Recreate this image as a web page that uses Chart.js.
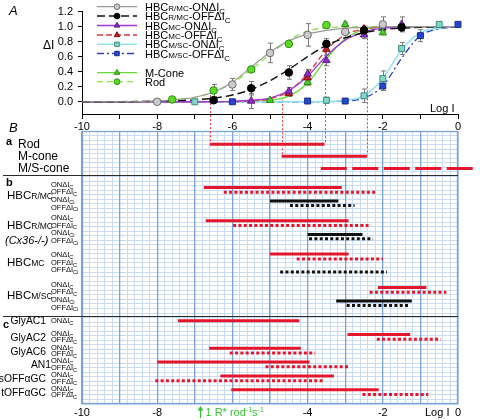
<!DOCTYPE html>
<html><head><meta charset="utf-8">
<script src="https://cdn.jsdelivr.net/npm/chart.js@4.4.0/dist/chart.umd.min.js"></script>
<style>
html,body{margin:0;padding:0;background:#fff;}
#wrap{position:relative;width:480px;height:420px;overflow:hidden;background:#fff;}
#wrap canvas{position:absolute;left:0;top:0;}
</style></head><body>
<div id="wrap"><canvas id="cb" width="480" height="420"></canvas><canvas id="ca" width="480" height="420"></canvas></div>
<script>
// ================= Panel A data (Log I vs ΔI) =================
const curveLogI  = [-10,-9,-8,-7.5,-7,-6.5,-6,-5.5,-5,-4.5,-4,-3.5,-3,-2.5,-2,-1.5,-1,-0.5,0];
const fitRmcOn   = [0,0,0.01,0.03,0.06,0.13,0.26,0.46,0.66,0.81,0.9,0.95,0.98,0.99,1,1,1,1,1];
const fitRmcOff  = [0,0,0.01,0.015,0.026,0.05,0.09,0.165,0.28,0.43,0.6,0.75,0.85,0.92,0.96,0.98,0.99,0.995,1];
const fitMcOn    = [0,0,0,0,0,0.002,0.006,0.02,0.05,0.15,0.34,0.61,0.82,0.93,0.98,0.99,1,1,1];
const fitMcOff   = [0,0,0,0,0,0.001,0.003,0.012,0.04,0.14,0.37,0.69,0.89,0.97,0.99,1,1,1,1];
const fitMsOn    = [0,0,0,0,0,0,0,0,0,0,0,0.004,0.018,0.08,0.31,0.69,0.92,0.98,1];
const fitMsOff   = [0,0,0,0,0,0,0,0,0,0,0,0.002,0.01,0.05,0.21,0.58,0.88,0.97,1];
const fitMcone   = [0,0,0,0,0,0,0.001,0.005,0.02,0.075,0.25,0.57,0.84,0.96,0.99,1,1,1,1];
const fitRod     = [0,0.003,0.01,0.03,0.06,0.13,0.25,0.43,0.63,0.82,0.94,0.985,0.995,1,1,1,1,1,1];

const ptsRmcOnX  = [-8,-6,-5,-4,-3,-2];
const ptsRmcOnY  = [0,0.23,0.65,0.89,0.93,1.03];
const ptsRmcOnE  = [0.01,0.08,0.13,0.15,0.08,0.1];
const ptsRmcOffX = [-6.5,-5.5,-4.5,-3.5,-2.5,-1.5];
const ptsRmcOffY = [0.02,0.18,0.39,0.77,0.95,0.99];
const ptsRmcOffE = [0.02,0.09,0.09,0.07,0.05,0.05];
const ptsMcOnX   = [-5.5,-4.5,-4,-3.5,-2.5,-1.5];
const ptsMcOnY   = [0.01,0.14,0.37,0.55,0.89,1.03];
const ptsMcOnE   = [0.1,0.05,0.06,0.07,0.05,0.1];
const ptsMcOffX  = [-4.5,-4,-3.5,-2.5];
const ptsMcOffY  = [0.11,0.32,0.7,0.97];
const ptsMcOffE  = [0.04,0.06,0.08,0.04];
const ptsMsOnX   = [-7,-3.5,-2.5,-2,-1.5,-0.5];
const ptsMsOnY   = [0,0.02,0.08,0.31,0.71,1.03];
const ptsMsOnE   = [0.01,0.04,0.09,0.1,0.08,0.02];
const ptsMsOffX  = [-6,-4,-3,-2,-1,0];
const ptsMsOffY  = [0,0.01,0.01,0.21,0.88,1.03];
const ptsMsOffE  = [0.01,0.01,0.01,0.06,0.08,0.02];
const ptsMconeX  = [-5,-4,-3,-2];
const ptsMconeY  = [0.02,0.26,1.03,0.92];
const ptsMconeE  = [0.01,0.04,0.03,0.03];
const ptsRodX    = [-7.6,-6.5,-5.5,-4.5,-3.5];
const ptsRodY    = [0.03,0.15,0.43,0.77,1.02];
const ptsRodE    = [0.02,0.08,0.03,0.03,0.02];
const yTicksA    = [0,0.2,0.4,0.6,0.8,1.0,1.2];
const guideTopsA = [0.14,0.82,0.02,0.95];   // ΔI where the dotted guides leave panel A

// ================= Panel B data (operating ranges, Log I) =================
const rowNamesA  = ['Rod','M-cone','M/S-cone'];
const rangesA    = [[-6.6,-3.55],[-4.69,-2.42],[-3.65,0.45]];

const hbcNames   = ['HBCR/MC','HBCR/MC (Cx36-/-)','HBCMC','HBCM/SC'];
const hbcOnC     = [[-6.76,-3.09],[-6.71,-2.91],[-5.0,-2.91],[-2.13,-0.84]];
const hbcOffC    = [[-6.23,-2.16],[-5.98,-2.38],[-4.29,-2.0],[-2.35,-0.31]];
const hbcOnCi    = [[-5.0,-3.18],[-4.0,-2.54],null,[-3.24,-1.23]];
const hbcOffCi   = [[-4.47,-2.75],[-3.96,-2.26],[-4.73,-1.89],[-2.96,-1.27]];

const acNames    = ['GlyAC1','GlyAC2','GlyAC6','AN1','sOFFαGC','tOFFαGC'];
const acOnC      = [[-7.45,-4.22],[-2.94,-1.27],[-6.62,-4.18],[-8.0,-3.95],[-6.32,-3.3],[-6.03,-2.11]];
const acOffC     = [null,[-2.16,-0.46],[-6.07,-3.8],[-5.12,-2.87],[-8.05,-3.56],[-2.54,-0.79]];
const xLabelsB   = [-10,-8,-4,-2,0];
const oneRstarLogI = -6.85;

// ================= layout helpers =================
const FONT = "'Liberation Sans', Arial, Helvetica, sans-serif";
Chart.defaults.font.family = FONT;
Chart.defaults.color = '#000';
const RED = '#e3162b', BLACK = '#111111';
const MAJOR = '#7aa3da', MINOR = '#c9dcf3';
function rowA(i){ return 2.9 + i*2.67; }
function rowB(g,k){ return 12.4 + g*7.33 + [0,1.05,3.0,3.95][k]; }
function rowC(i,k){ return 41.7 + i*3.03 + k*1.05; }
const sectionBreaks = [9.67, 40.7];
function ticksFrom(a,b,step){ const t=[]; const n=Math.round((b-a)/step); for(let i=0;i<=n;i++) t.push({value:+(a+i*step).toFixed(6)}); return t; }
function rich(ctx,x,y,segs,align){
  let w=0;
  segs.forEach(s=>{ctx.font=(s[3]||'')+' '+s[1]+'px '+FONT; w+=ctx.measureText(s[0]).width;});
  let cx = align==='right'? x-w : (align==='center'? x-w/2 : x);
  ctx.textAlign='left'; ctx.textBaseline='alphabetic';
  segs.forEach(s=>{ctx.font=(s[3]||'')+' '+s[1]+'px '+FONT; ctx.fillText(s[0],cx,y+(s[2]||0)); cx+=ctx.measureText(s[0]).width;});
}
function hbcSegs(sub,size,small){ return [['HBC',size],[sub,small]]; }

// ================= Panel B chart =================
const bDatasets = [];
function addBar(r,y,color,kind){
  if(!r) return;
  bDatasets.push({data:[{x:r[0],y:y},{x:r[1],y:y}], xAxisID:'x', yAxisID:'y',
    borderColor:color, borderWidth:3, borderCapStyle:'butt',
    borderDash: kind==='dot'?[3,2.3]:(kind==='dash'?[26,5.5]:[]),
    pointRadius:0, pointHoverRadius:0, fill:false, tension:0, clip:false});
}
rangesA.forEach((r,i)=>addBar(r,rowA(i),RED,i===2?'dash':'solid'));
hbcNames.forEach((n,g)=>{
  addBar(hbcOnC[g],rowB(g,0),RED,'solid');
  addBar(hbcOffC[g],rowB(g,1),RED,'dot');
  addBar(hbcOnCi[g],rowB(g,2),BLACK,'solid');
  addBar(hbcOffCi[g],rowB(g,3),BLACK,'dot');
});
acNames.forEach((n,i)=>{
  addBar(acOnC[i],rowC(i,0),RED,'solid');
  addBar(acOffC[i],rowC(i,1),RED,'dot');
});

const hbcSub = [
  [['ON','C'],['OFF','C'],['ON','Ci'],['OFF','Ci']],
  [['ON','C'],['OFF','C'],['ON','Ci'],['OFF','Ci']],
  [['ON','C'],['OFF','C'],['OFF','Ci']],
  [['ON','C'],['OFF','C'],['ON','Ci'],['OFF','Ci']]
];
function subLabel(ctx,x,cy,pre,sub){ rich(ctx,x,cy+2.7,[[pre+'ΔI',7.5],[sub,5.5,1.8]]); }

const bPlugin = {
  id:'bDeco',
  beforeDatasetsDraw(chart){
    const ctx=chart.ctx, ca=chart.chartArea, ys=chart.scales.y;
    ctx.save();
    ctx.strokeStyle=MAJOR; ctx.lineWidth=1.3;
    ctx.strokeRect(ca.left+0.5, ca.top+0.5, ca.right-ca.left-1, ca.bottom-ca.top-1);
    ctx.strokeStyle='#2b2b2b'; ctx.lineWidth=1.2;
    sectionBreaks.forEach(v=>{const p=Math.round(ys.getPixelForValue(v))+0.5; ctx.beginPath(); ctx.moveTo(3,p); ctx.lineTo(ca.right,p); ctx.stroke();});
    ctx.restore();
  },
  afterDraw(chart){
    const ctx=chart.ctx, ys=chart.scales.y, xs=chart.scales.x, ca=chart.chartArea;
    const Y=v=>ys.getPixelForValue(v);
    ctx.save(); ctx.fillStyle='#000';
    // section a
    rich(ctx,6,Y(rowA(0))+1,[['a',11,0,'bold']]);
    rowNamesA.forEach((n,i)=>rich(ctx,18,Y(rowA(i))+3.5,[[n,12]]));
    // section b
    rich(ctx,6,Y(sectionBreaks[0])+11,[['b',11,0,'bold']]);
    const subs=['R/MC','R/MC','MC','M/SC'];
    hbcNames.forEach((n,g)=>{
      const mid=(Y(rowB(g,0))+Y(rowB(g,3)))/2;
      if(g===1){
        rich(ctx,7,mid-5+4,hbcSegs(subs[g],11.5,8.5));
        rich(ctx,5,mid+10+4,[['(Cx36-/-)',11,0,'italic']]);
      } else {
        rich(ctx,7,mid-1+4,hbcSegs(subs[g],11.5,8.5));
      }
      const L=hbcSub[g], step=7.6, first=mid-1-step*(L.length-1)/2;
      L.forEach((s,k)=>subLabel(ctx,51,first+k*step,s[0],s[1]));
    });
    // section c
    rich(ctx,3,Y(rowC(0,0))+7,[['c',11,0,'bold']]);
    acNames.forEach((n,i)=>{
      const on=Y(rowC(i,0));
      if(acOffC[i]){
        rich(ctx, n==='AN1'?51:46, on+2.5+3.7, [[n,10.3]], 'right');
        subLabel(ctx,51,on-1.5,'ON','C');
        subLabel(ctx,51,on+5,'OFF','C');
      } else {
        rich(ctx,46,on+3.7,[[n,10.3]],'right');
        subLabel(ctx,51,on,'ON','C');
      }
    });
    // bottom annotations
    const by = ca.bottom+8;
    ctx.fillStyle='#000';
    rich(ctx,425,by+4,[['Log I',11]]);
    const ax = Math.round(xs.getPixelForValue(oneRstarLogI))+0.5;
    ctx.strokeStyle='#33c233'; ctx.fillStyle='#33c233'; ctx.lineWidth=1.3;
    ctx.beginPath(); ctx.moveTo(ax,by+6); ctx.lineTo(ax,by-4); ctx.stroke();
    ctx.beginPath(); ctx.moveTo(ax,by-6); ctx.lineTo(ax-3,by-1.5); ctx.lineTo(ax+3,by-1.5); ctx.closePath(); ctx.fill();
    rich(ctx,ax+5,by+4,[['1 R* rod',11],['-1',7,-4],['s',11],['-1',7,-4]]);
    ctx.restore();
  }
};

const chartB = new Chart(document.getElementById('cb'), {
  type:'line',
  data:{datasets:bDatasets},
  options:{
    responsive:false, animation:false, events:[],
    layout:{padding:{left:0,right:22,top:131,bottom:0}},
    plugins:{legend:{display:false},tooltip:{enabled:false}},
    scales:{
      xm:{type:'linear',position:'bottom',min:-10,max:0,
        afterBuildTicks:a=>{a.ticks=ticksFrom(-10,0,0.2);},
        ticks:{display:false}, grid:{color:MINOR,lineWidth:1,drawTicks:false,z:-2},
        border:{display:false}, afterFit:s=>{s.height=0;}},
      x:{type:'linear',position:'bottom',min:-10,max:0,
        afterBuildTicks:a=>{a.ticks=ticksFrom(-10,0,1);},
        ticks:{autoSkip:false,maxRotation:0,padding:2,font:{size:11},
          callback:v=>xLabelsB.includes(Math.round(v))?String(Math.round(v)):''},
        grid:{color:MAJOR,lineWidth:1.3,drawTicks:false,z:-1},
        border:{display:false}, afterFit:s=>{s.height=16;}},
      y:{type:'linear',position:'left',min:0,max:60,reverse:true,
        afterBuildTicks:a=>{a.ticks=ticksFrom(0,60,1);},
        ticks:{display:false}, grid:{color:MINOR,lineWidth:1,drawTicks:false,z:-2},
        border:{display:false}, afterFit:s=>{s.width=82;}}
    }
  },
  plugins:[bPlugin]
});

// ================= Panel A chart =================
const seriesA = [
  {name:[['HBC',11],['R/MC',8],['-ONΔI',11],['C',8,3]], px:ptsRmcOnX, py:ptsRmcOnY, err:ptsRmcOnE, fit:fitRmcOn,
   line:'#9a9a9a', width:1.2, dash:[], style:'circle', r:3.8, fill:'#cacaca', stroke:'#6e6e6e', ly:6.7},
  {name:[['HBC',11],['R/MC',8],['-OFFΔI',11],['C',8,3]], px:ptsRmcOffX, py:ptsRmcOffY, err:ptsRmcOffE, fit:fitRmcOff,
   line:'#111111', width:1.4, dash:[8,4], style:'circle', r:3.8, fill:'#000000', stroke:'#000000', ly:16},
  {name:[['HBC',11],['MC',8],['-ONΔI',11],['C',8,3]], px:ptsMcOnX, py:ptsMcOnY, err:ptsMcOnE, fit:fitMcOn,
   line:'#a03ad6', width:1.3, dash:[], style:'triangle', r:4.3, fill:'#8e2fc4', stroke:'#5d1a87', ly:25.5},
  {name:[['HBC',11],['MC',8],['-OFFΔI',11],['C',8,3]], px:ptsMcOffX, py:ptsMcOffY, err:ptsMcOffE, fit:fitMcOff,
   line:'#e0353a', width:1.3, dash:[6,3], style:'triangle', r:4.3, fill:'#c91f24', stroke:'#7d1012', ly:35},
  {name:[['HBC',11],['M/SC',8],['-ONΔI',11],['C',8,3]], px:ptsMsOnX, py:ptsMsOnY, err:ptsMsOnE, fit:fitMsOn,
   line:'#90e4ea', width:1.6, dash:[], style:'rect', r:4.2, fill:'#80d8c6', stroke:'#3b8e80', ly:44.3},
  {name:[['HBC',11],['M/SC',8],['-OFFΔI',11],['C',8,3]], px:ptsMsOffX, py:ptsMsOffY, err:ptsMsOffE, fit:fitMsOff,
   line:'#2c3fc4', width:1.3, dash:[7,3,2,3], style:'rect', r:4.2, fill:'#2547cf', stroke:'#162a8a', ly:53.5},
  {name:[['M-Cone',11]], px:ptsMconeX, py:ptsMconeY, err:ptsMconeE, fit:fitMcone,
   line:'#6ad93a', width:1.3, dash:[], style:'triangle', r:4.3, fill:'#4ccc26', stroke:'#2a8a14', ly:72.7},
  {name:[['Rod',11]], px:ptsRodX, py:ptsRodY, err:ptsRodE, fit:fitRod,
   line:'#8ee04e', width:1.3, dash:[6,4], style:'circle', r:3.8, fill:'#5fd927', stroke:'#2a8f12', ly:81.7}
];

const aDatasets = [];
seriesA.forEach(s=>aDatasets.push({
  data:s.px.map((x,i)=>({x:x,y:s.py[i]})), showLine:false, clip:false,
  pointStyle:s.style, pointRadius:s.r, pointHoverRadius:s.r,
  pointBackgroundColor:s.fill, pointBorderColor:s.stroke, pointBorderWidth:1
}));
seriesA.forEach(s=>aDatasets.push({
  data:curveLogI.map((x,i)=>({x:x,y:s.fit[i]})), borderColor:s.line, borderWidth:s.width,
  borderDash:s.dash, pointRadius:0, pointHoverRadius:0, cubicInterpolationMode:'monotone', fill:false
}));

const guides = [
  {x:rangesA[0][0], top:guideTopsA[0], row:rowA(0)},
  {x:rangesA[0][1], top:guideTopsA[1], row:rowA(0)},
  {x:rangesA[1][0], top:guideTopsA[2], row:rowA(1)},
  {x:rangesA[1][1], top:guideTopsA[3], row:rowA(1)}
];

function marker(ctx,style,x,y,r){
  ctx.beginPath();
  if(style==='circle'){ ctx.arc(x,y,r,0,Math.PI*2); }
  else if(style==='triangle'){ ctx.moveTo(x,y-r); ctx.lineTo(x+r*0.87,y+r*0.5); ctx.lineTo(x-r*0.87,y+r*0.5); ctx.closePath(); }
  else { const h=r*0.71; ctx.rect(x-h,y-h,2*h,2*h); }
  ctx.fill(); ctx.stroke();
}

const aPlugin = {
  id:'aDeco',
  beforeDatasetsDraw(chart){
    const ctx=chart.ctx, xs=chart.scales.x, ys=chart.scales.y;
    ctx.save();
    ctx.strokeStyle='#e8383d'; ctx.lineWidth=1; ctx.setLineDash([2,2]);
    guides.forEach(g=>{
      const px=Math.round(xs.getPixelForValue(g.x))+0.5;
      ctx.beginPath(); ctx.moveTo(px,ys.getPixelForValue(g.top)); ctx.lineTo(px,chartB.scales.y.getPixelForValue(g.row)-1); ctx.stroke();
    });
    ctx.setLineDash([]);
    ctx.strokeStyle='#777777'; ctx.lineWidth=1;
    seriesA.forEach(s=>s.px.forEach((x,i)=>{
      const e=s.err[i]; if(!e) return;
      const cx=Math.round(xs.getPixelForValue(x))+0.5;
      const t=ys.getPixelForValue(s.py[i]+e), b=ys.getPixelForValue(s.py[i]-e);
      ctx.beginPath(); ctx.moveTo(cx,t); ctx.lineTo(cx,b);
      ctx.moveTo(cx-2.5,t); ctx.lineTo(cx+2.5,t); ctx.moveTo(cx-2.5,b); ctx.lineTo(cx+2.5,b); ctx.stroke();
    }));
    ctx.restore();
  },
  afterDraw(chart){
    const ctx=chart.ctx;
    ctx.save();
    seriesA.forEach(s=>{
      ctx.strokeStyle=s.line; ctx.lineWidth=s.width; ctx.setLineDash(s.dash);
      ctx.beginPath(); ctx.moveTo(97,s.ly); ctx.lineTo(137,s.ly); ctx.stroke();
      ctx.setLineDash([]);
      ctx.fillStyle=s.fill; ctx.strokeStyle=s.stroke; ctx.lineWidth=1;
      marker(ctx,s.style,117,s.ly,s.r*0.75);
      ctx.fillStyle='#000';
      rich(ctx,145,s.ly+4,s.name);
    });
    ctx.fillStyle='#000';
    rich(ctx,9,15,[['A',13,0,'italic']]);
    rich(ctx,9,132,[['B',13,0,'italic']]);
    rich(ctx,43,49,[['ΔI',12]]);
    rich(ctx,430,112,[['Log I',11]]);
    ctx.restore();
  }
};

const chartA = new Chart(document.getElementById('ca'), {
  type:'line',
  data:{datasets:aDatasets},
  options:{
    responsive:false, animation:false, events:[],
    layout:{padding:{left:0,right:22,top:11,bottom:0}},
    plugins:{legend:{display:false},tooltip:{enabled:false}},
    scales:{
      x:{type:'linear',position:'bottom',min:-10,max:0,
        afterBuildTicks:a=>{a.ticks=ticksFrom(-10,0,1);},
        ticks:{autoSkip:false,maxRotation:0,padding:1,font:{size:11},
          callback:v=>Math.round(v)%2===0?String(Math.round(v)):''},
        grid:{drawOnChartArea:false,drawTicks:true,tickLength:4,color:'#000'},
        border:{display:true,color:'#000',width:1}, afterFit:s=>{s.height=305;}},
      y:{type:'linear',position:'left',min:-0.176,max:1.2,
        afterBuildTicks:a=>{a.ticks=yTicksA.map(v=>({value:v}));},
        ticks:{padding:5,font:{size:11},callback:v=>Number(v).toFixed(1)},
        grid:{drawOnChartArea:false,drawTicks:true,tickLength:4,color:'#000'},
        border:{display:true,color:'#000',width:1}, afterFit:s=>{s.width=82;}}
    }
  },
  plugins:[aPlugin]
});
</script></body></html>
